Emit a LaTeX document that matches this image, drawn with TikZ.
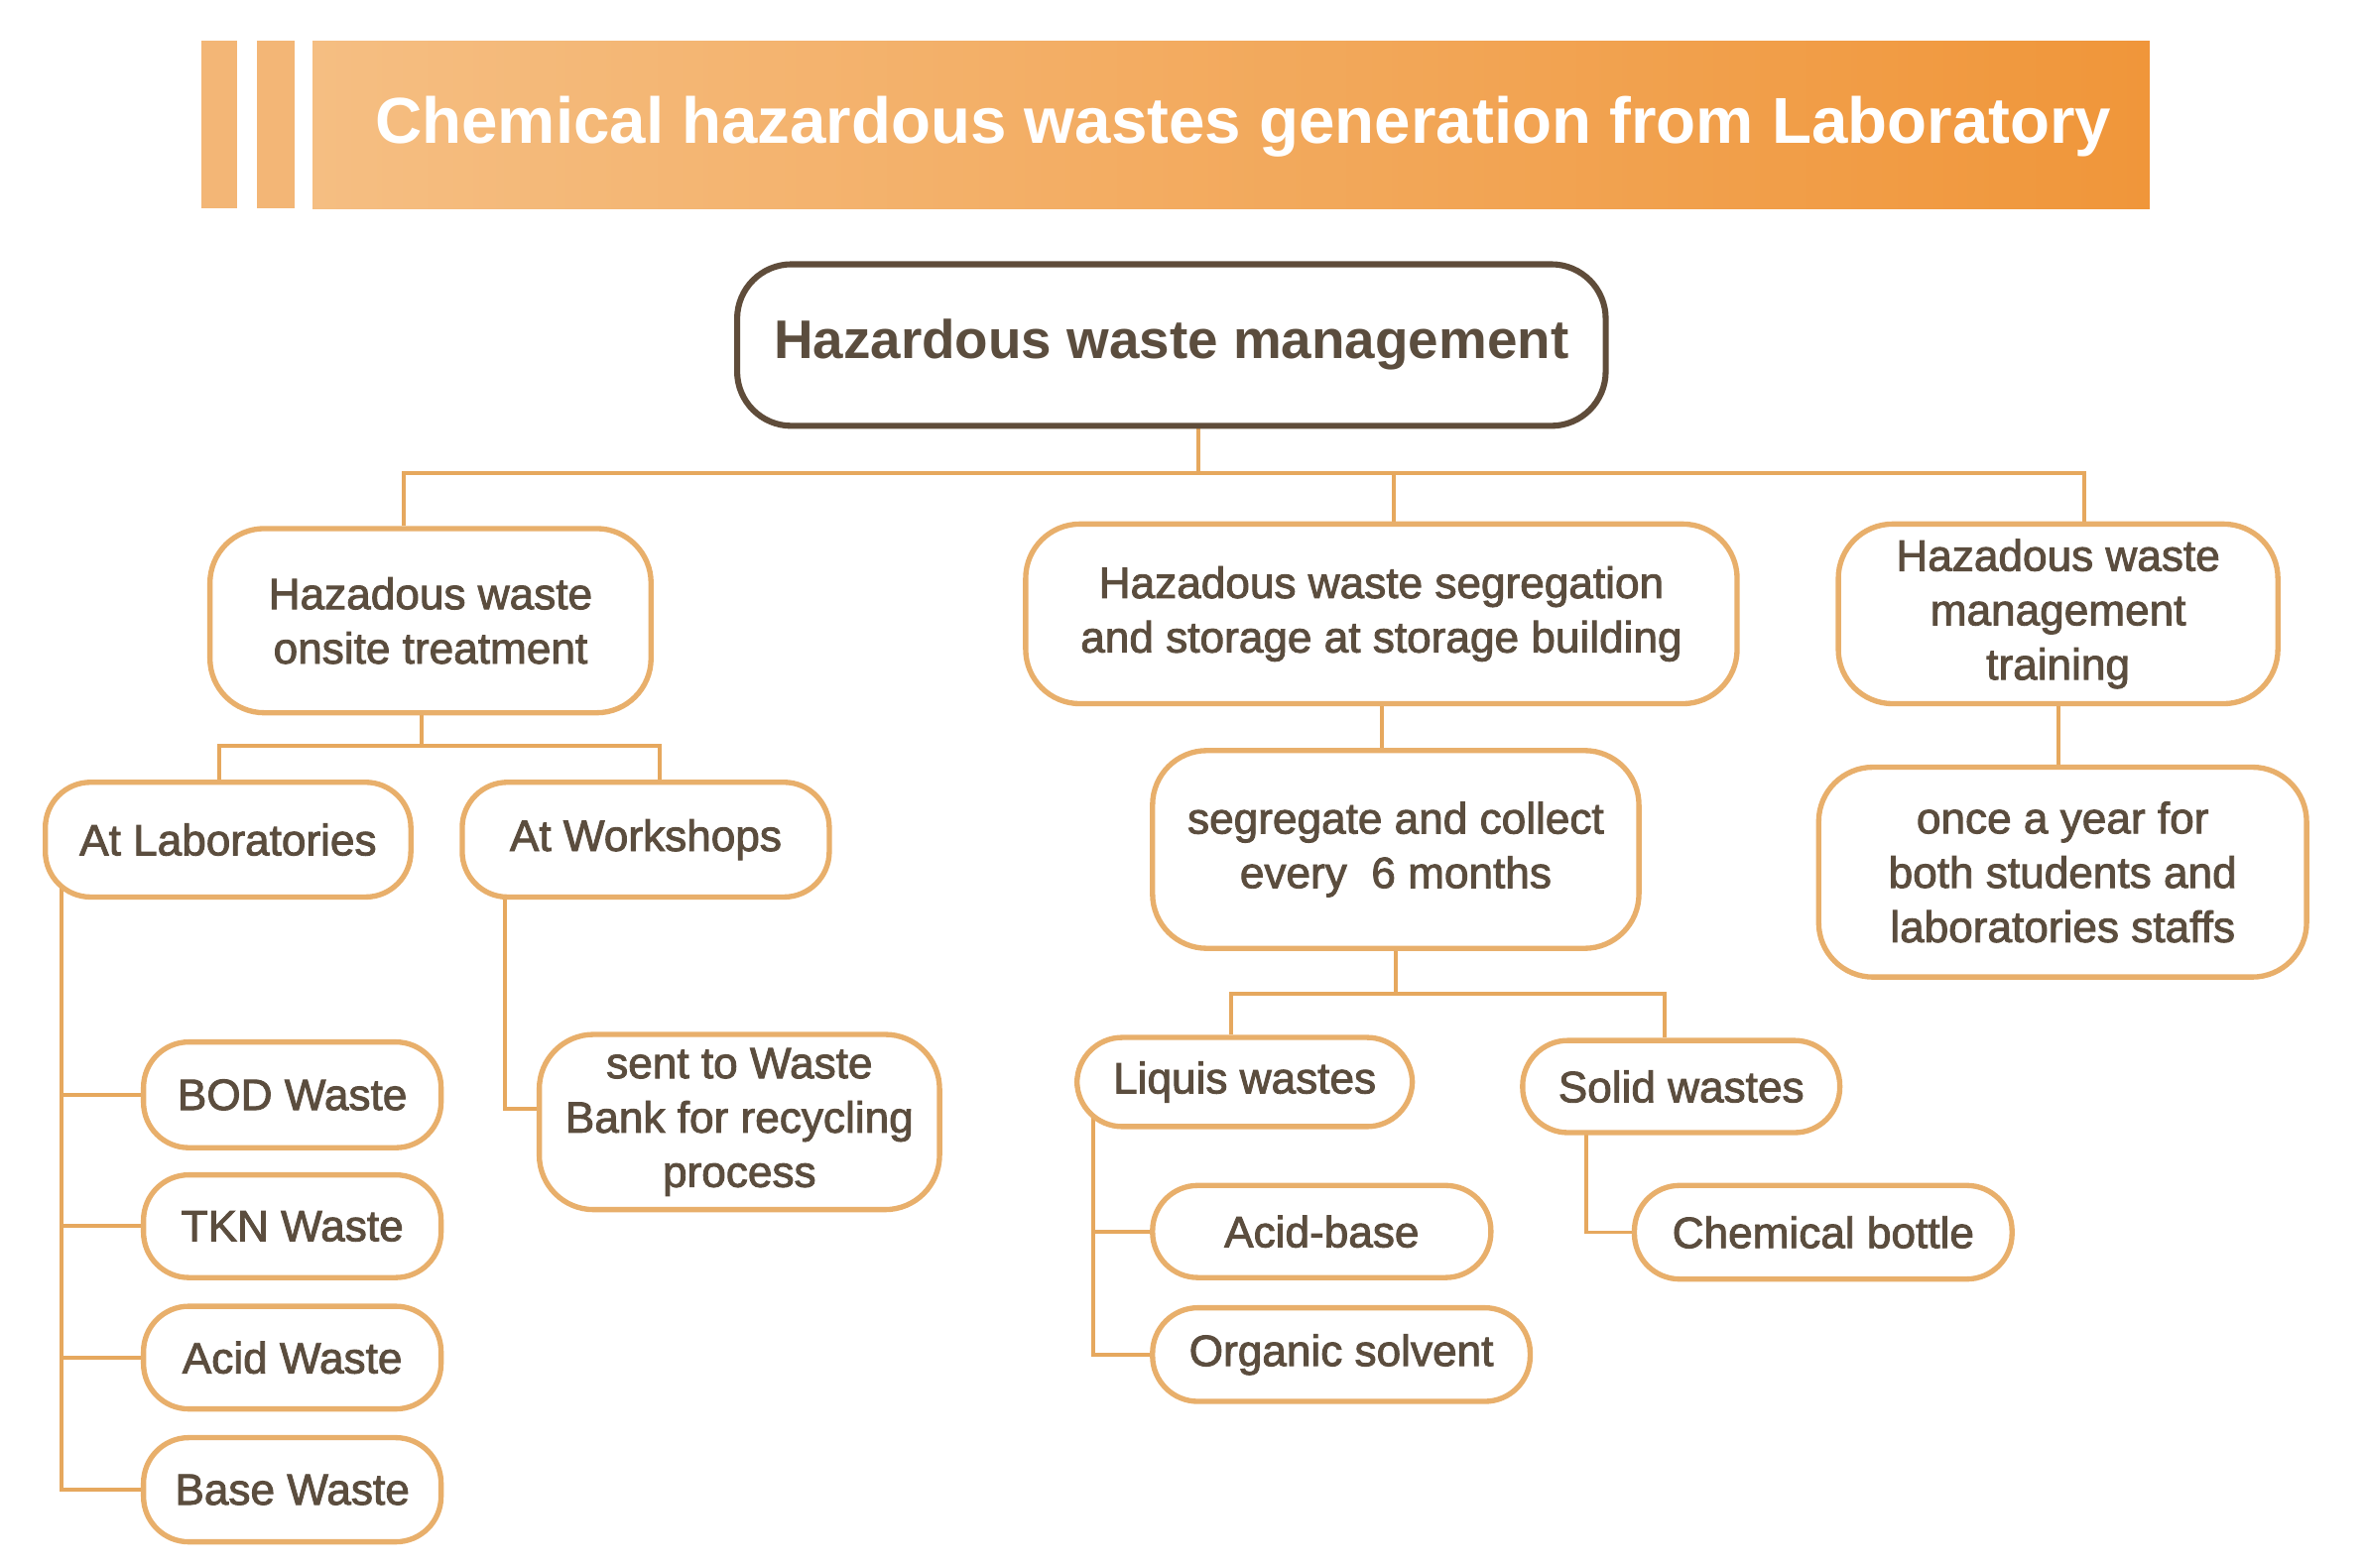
\documentclass[tikz,border=0pt]{standalone}
\usepackage{fontspec}
\setmainfont{Liberation Sans}
\newfontfamily\medfont[FakeBold=2]{Liberation Sans}
\usetikzlibrary{backgrounds}
\definecolor{bannerL}{HTML}{F5BE82}
\definecolor{bannerR}{HTML}{F0963A}
\definecolor{stripe}{HTML}{F3B676}
\definecolor{obord}{HTML}{E8AF6B}
\definecolor{oline}{HTML}{E6A85E}
\definecolor{txt}{HTML}{5B4D3E}
\definecolor{topbord}{HTML}{5F4C3A}
\tikzset{
  box/.style={draw=obord, line width=3.5pt, fill=white, rounded corners=30pt,
    align=center, text=txt, inner sep=0pt,
    font=\medfont\fontsize{29}{36}\selectfont},
  bigbox/.style={box, rounded corners=36pt},
  topbox/.style={draw=topbord, line width=4pt, fill=white, rounded corners=36pt,
    align=center, text=txt, inner sep=0pt,
    font=\bfseries\fontsize{36}{42}\selectfont},
  conn/.style={draw=oline, line width=2.6pt},
}
\begin{document}
\begin{tikzpicture}[x=1pt,y=-1pt]
\useasboundingbox (0,0) rectangle (1567,1038);
% banner
\fill[stripe] (133,27) rectangle (157,138);
\fill[stripe] (170,27) rectangle (195,138);
\shade[left color=bannerL, right color=bannerR] (207,27) rectangle (1423,138);
\node[text=white, font=\bfseries\fontsize{43}{50}\selectfont] (title) at (823,84) {Chemical hazardous wastes generation from Laboratory};
% nodes
\node[topbox, minimum width=575pt, minimum height=107pt] (top) at (775.5,228.5) {Hazardous waste management};
\node[bigbox, minimum width=292pt, minimum height=122pt] (n1) at (285,411) {Hazadous waste\\onsite treatment};
\node[bigbox, minimum width=471pt, minimum height=119pt] (n2) at (914.5,406.5) {Hazadous waste segregation\\and storage at storage building};
\node[bigbox, minimum width=291pt, minimum height=119pt] (n3) at (1362.5,406.5) {Hazadous waste\\management\\training};
\node[box, minimum width=242pt, minimum height=76pt] (lab) at (151,556) {At Laboratories};
\node[box, minimum width=243pt, minimum height=76pt] (work) at (427.5,556) {At Workshops};
\node[box, minimum width=197pt, minimum height=70pt] (bod) at (193.5,725) {BOD Waste};
\node[box, minimum width=197pt, minimum height=68pt] (tkn) at (193.5,812) {TKN Waste};
\node[box, minimum width=197pt, minimum height=68pt] (acid) at (193.5,899) {Acid Waste};
\node[box, minimum width=197pt, minimum height=69pt] (base) at (193.5,986.5) {Base Waste};
\node[bigbox, minimum width=265pt, minimum height=116pt] (sent) at (489.5,743) {sent to Waste\\Bank for recycling\\process};
\node[bigbox, minimum width=322pt, minimum height=131pt] (seg) at (924,562.5) {segregate and collect\\every~~6 months};
\node[box, minimum width=222pt, minimum height=59pt] (liq) at (824,716.5) {Liquis wastes};
\node[box, minimum width=210pt, minimum height=61pt] (sol) at (1113,719.5) {Solid wastes};
\node[box, minimum width=224pt, minimum height=61pt] (ab) at (875,815.5) {Acid-base};
\node[box, minimum width=250pt, minimum height=62pt] (org) at (888,897) {Organic solvent};
\node[box, minimum width=250pt, minimum height=62pt] (cb) at (1207,816) {Chemical bottle};
\node[bigbox, minimum width=323pt, minimum height=139pt] (once) at (1365.5,577.5) {once a year for\\both students and\\laboratories staffs};
% connectors
\begin{scope}[on background layer]
\draw[conn] ([xshift=18pt]top.south) -- ++(0,29) coordinate (hub);
\draw[conn] (hub) -| ([xshift=-18pt]n1.north);
\draw[conn] (hub) -| ([xshift=8.5pt]n2.north);
\draw[conn] (hub) -| ([xshift=17.5pt]n3.north);
\draw[conn] ([xshift=-6pt]n1.south) -- ++(0,20) coordinate (h1);
\draw[conn] (h1) -| ([xshift=-6pt]lab.north);
\draw[conn] (h1) -| ([xshift=9.5pt]work.north);
\draw[conn] ([xshift=-110pt]lab.center) |- (bod.west);
\draw[conn] ([xshift=-110pt]lab.center) |- (tkn.west);
\draw[conn] ([xshift=-110pt]lab.center) |- (acid.west);
\draw[conn] ([xshift=-110pt]lab.center) |- (base.west);
\draw[conn] ([xshift=-93.5pt]work.center) |- ([yshift=9pt]sent.west);
\draw[conn] ([xshift=0.5pt]n2.south) -- ([xshift=0.5pt]n2.south |- seg.north);
\draw[conn] (seg.south) -- ++(0,28) coordinate (h2);
\draw[conn] (h2) -| ([xshift=-9pt]liq.north);
\draw[conn] (h2) -| ([xshift=-11pt]sol.north);
\draw[conn] ([xshift=-100pt]liq.center) |- (ab.west);
\draw[conn] ([xshift=-100pt]liq.center) |- (org.west);
\draw[conn] ([xshift=-63pt]sol.center) |- (cb.west);
\draw[conn] ([xshift=0.5pt]n3.south) -- ([xshift=0.5pt]n3.south |- once.north);
\end{scope}
\end{tikzpicture}
\end{document}
